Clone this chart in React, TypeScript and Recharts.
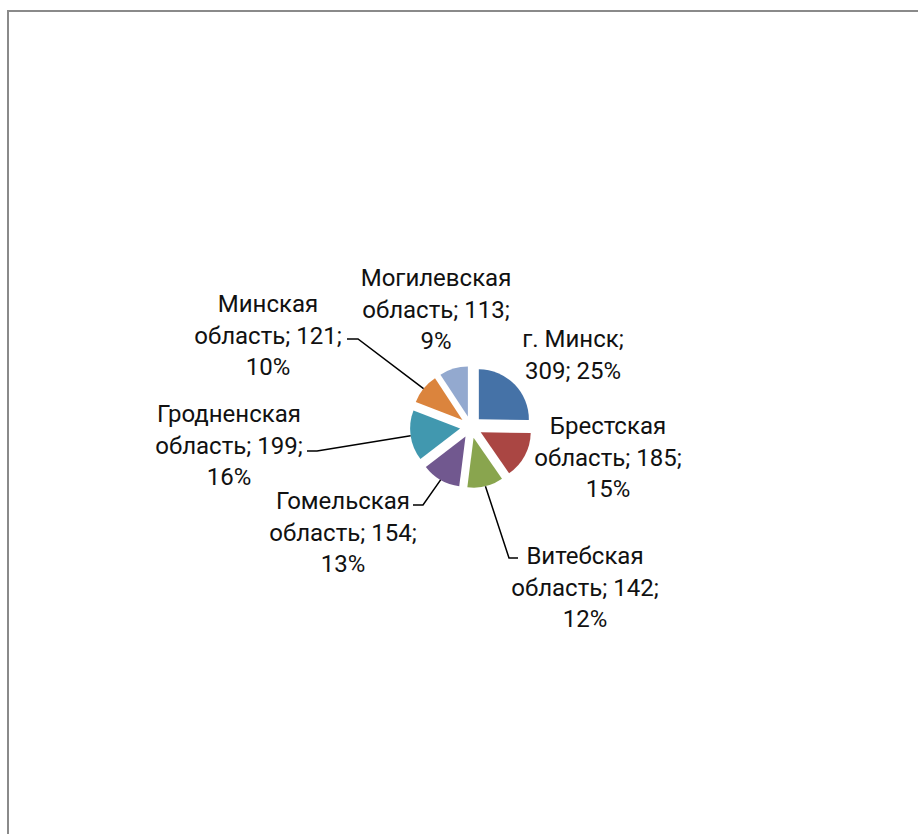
import { PieChart, Pie, Cell, Sector } from "recharts";

// Regions of Belarus, clockwise from 12 o'clock
const REGIONS = [
  "г. Минск",
  "Брестская область",
  "Витебская область",
  "Гомельская область",
  "Гродненская область",
  "Минская область",
  "Могилевская область",
];
const COUNTS = [309, 185, 142, 154, 199, 121, 113];
const COLORS = ["#4572A7", "#AA4643", "#89A54E", "#71588F", "#4198AF", "#DB843D", "#93A9CF"];

const data = REGIONS.map((name, i) => ({ name, value: COUNTS[i] }));

/* Layout only (relative to the pie centre): Excel "best fit" label spots,
   words per wrapped line, and leader-line elbows for the labels that need one. */
const CX = 471;
const CY = 427;
const RADIUS = 50;
const EXPLODE = 11;
const LINE_H = 31.5;
const LABEL_AT: [number, number][] = [
  [102, -80], [137, 7], [114, 137], [-128, 82], [-242, -5], [-203, -115], [-35, -141],
];
const LABEL_WRAP = [[2, 2], [1, 2, 1], [1, 2, 1], [1, 2, 1], [1, 2, 1], [1, 2, 1], [1, 2, 1]];
const LEADERS: ({ elbow: [number, number]; endX: number } | null)[] = [
  null,
  null,
  { elbow: [38, 131], endX: 47 },
  { elbow: [-48, 78], endX: -58 },
  { elbow: [-154, 24], endX: -164 },
  { elbow: [-113, -88], endX: -124 },
  null,
];

const RAD = Math.PI / 180;
const polar = (x: number, y: number, r: number, angle: number): [number, number] =>
  [x + r * Math.cos(-angle * RAD), y + r * Math.sin(-angle * RAD)];

function wrapLabel(text: string, counts: number[]) {
  const words = text.split(" ");
  const out: string[] = [];
  let k = 0;
  for (const n of counts) {
    out.push(words.slice(k, k + n).join(" "));
    k += n;
  }
  return out;
}

// Draws the exploded slice, its leader line and the data label
function SliceLabel(props: any) {
  const { cx, cy, midAngle, outerRadius, startAngle, endAngle, index, value, percent } = props;
  const name = props.name ?? REGIONS[index];
  const [ox, oy] = polar(0, 0, EXPLODE, midAngle);
  const [lx, ly] = LABEL_AT[index];
  const lines = wrapLabel(`${name}; ${value}; ${Math.round(percent * 100)}%`, LABEL_WRAP[index]);
  const leader = LEADERS[index];
  let pts = "";
  if (leader) {
    const [sx, sy] = polar(cx, cy, outerRadius + EXPLODE, midAngle);
    const ex = cx + leader.elbow[0];
    const ey = cy + leader.elbow[1];
    pts = `${sx},${sy} ${ex},${ey} ${cx + leader.endX},${ey}`;
  }
  return (
    <g>
      <Sector cx={cx + ox} cy={cy + oy} innerRadius={0} outerRadius={outerRadius}
        startAngle={startAngle} endAngle={endAngle} fill={COLORS[index]} stroke="none" />
      {leader && <polyline points={pts} fill="none" stroke="#000" strokeWidth={1.5} />}
      <text textAnchor="middle" fontFamily="Roboto, 'Open Sans', sans-serif" fontSize={24} fill="#111">
        {lines.map((t, k) => (
          <tspan key={k} x={cx + lx} y={cy + ly + k * LINE_H}>{t}</tspan>
        ))}
      </text>
    </g>
  );
}

export default function App() {
  return (
    <div>
      <div style={{
        position: "absolute", left: 7, top: 10, width: 911, height: 824, boxSizing: "border-box",
        borderTop: "2px solid #8a8a8a", borderLeft: "2px solid #8a8a8a", background: "#fff",
      }} />
      <div style={{ position: "absolute", left: 0, top: 0 }}>
        <PieChart width={918} height={834} margin={{ top: 0, right: 0, bottom: 0, left: 0 }}>
          <Pie data={data} dataKey="value" nameKey="name" cx={CX} cy={CY} outerRadius={RADIUS}
            startAngle={90} endAngle={-270} stroke="none" label={SliceLabel} labelLine={false}
            isAnimationActive={false}>
            {data.map((d, i) => (
              <Cell key={d.name} fill={COLORS[i]} fillOpacity={0} />
            ))}
          </Pie>
        </PieChart>
      </div>
    </div>
  );
}
